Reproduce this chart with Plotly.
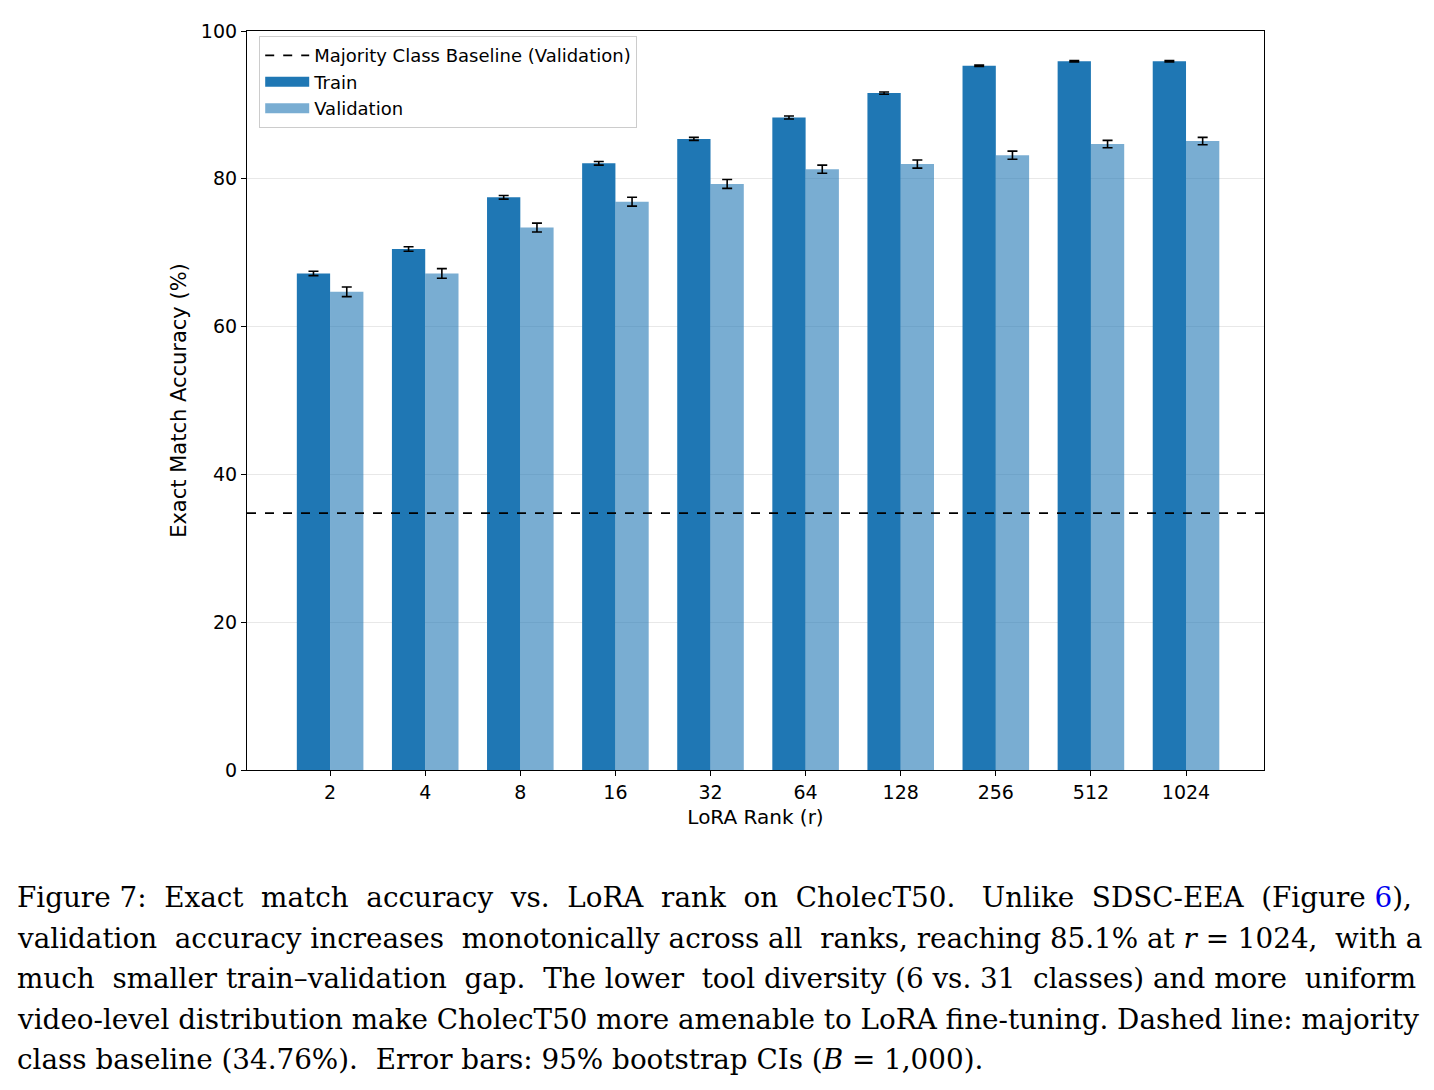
import plotly.graph_objects as go

ranks = ["2", "4", "8", "16", "32", "64", "128", "256", "512", "1024"]
train_acc = [67.2, 70.5, 77.5, 82.1, 85.4, 88.3, 91.6, 95.3, 95.9, 95.9]
train_err = [0.3, 0.3, 0.25, 0.25, 0.2, 0.2, 0.15, 0.1, 0.1, 0.1]
val_acc = [64.7, 67.2, 73.4, 76.9, 79.3, 81.3, 82.0, 83.2, 84.7, 85.1]
val_err = [0.65, 0.65, 0.6, 0.6, 0.6, 0.55, 0.55, 0.55, 0.5, 0.5]
baseline = 34.76
yticks = [0, 20, 40, 60, 80, 100]

caption_lines = [
    "Figure 7:  Exact  match  accuracy  vs.  LoRA  rank  on  CholecT50.   Unlike  SDSC-EEA  (Figure <span style='color:#0000ee'>6</span>),",
    "validation  accuracy increases  monotonically across all  ranks, reaching 85.1% at <i>r</i> = 1024,  with a",
    "much  smaller train–validation  gap.  The lower  tool diversity (6 vs. 31  classes) and more  uniform",
    "video-level distribution make CholecT50 more amenable to LoRA fine-tuning. Dashed line: majority",
    "class baseline (34.76%).  Error bars: 95% bootstrap CIs (<i>B</i> = 1,000).",
]

W, H = 1434, 1090
L, R, T, B = 247, 1264, 31, 770
TRAIN_C = "#1f77b4"
VAL_C = "rgba(31,119,180,0.6)"

xs = list(range(len(ranks)))
xr = [-0.874, 9.82]

fig = go.Figure()
fig.add_trace(go.Bar(
    x=[x - 0.175 for x in xs], y=train_acc, width=0.35, name="Train", showlegend=False,
    marker=dict(color=TRAIN_C, line=dict(width=0)),
    error_y=dict(type="data", array=train_err, color="black", thickness=1.6, width=5),
))
fig.add_trace(go.Bar(
    x=[x + 0.175 for x in xs], y=val_acc, width=0.35, name="Validation", showlegend=False,
    marker=dict(color=VAL_C, line=dict(width=0)),
    error_y=dict(type="data", array=val_err, color="black", thickness=1.6, width=5),
))
fig.add_trace(go.Scatter(
    x=xr, y=[baseline, baseline], mode="lines",
    line=dict(color="black", dash="dash", width=1.6),
    name="Majority Class Baseline (Validation)",
))
# legend swatches for the bars (wide rectangles)
fig.add_trace(go.Scatter(x=[None], y=[None], mode="lines", name="Train",
                         line=dict(color=TRAIN_C, width=12)))
fig.add_trace(go.Scatter(x=[None], y=[None], mode="lines", name="Validation",
                         line=dict(color=VAL_C, width=12)))

fig.update_layout(
    width=W, height=H,
    margin=dict(l=L, r=W - R, t=T, b=H - B, pad=0),
    paper_bgcolor="white", plot_bgcolor="white",
    barmode="overlay",
    font=dict(family="DejaVu Sans", size=19, color="black"),
    showlegend=True,
    legend=dict(
        x=0.012, y=0.993, xanchor="left", yanchor="top",
        bgcolor="rgba(255,255,255,0.8)", bordercolor="#cccccc", borderwidth=1,
        font=dict(size=18), itemwidth=44, traceorder="normal",
    ),
)
fig.update_xaxes(
    range=xr, tickmode="array", tickvals=xs, ticktext=ranks,
    showline=True, linecolor="black", linewidth=1.2, mirror=True,
    ticks="outside", ticklen=5, tickcolor="black", showgrid=False, zeroline=False,
    title=dict(text="LoRA Rank (r)", font=dict(size=20), standoff=8),
    tickfont=dict(size=19),
)
fig.update_yaxes(
    range=[0, 100], tickmode="array", tickvals=yticks,
    showline=True, linecolor="black", linewidth=1.2, mirror=True,
    ticks="outside", ticklen=5, tickcolor="black",
    showgrid=True, gridcolor="rgba(0,0,0,0.09)", gridwidth=1, zeroline=False,
    title=dict(text="Exact Match Accuracy (%)", font=dict(size=21), standoff=8),
    tickfont=dict(size=19),
)

centers_px = [895, 936, 976, 1017, 1057]
for line, py in zip(caption_lines, centers_px):
    fig.add_annotation(
        x=(15 - L) / (R - L), y=(B - py) / (B - T), xref="paper", yref="paper",
        xanchor="left", yanchor="middle", showarrow=False, align="left",
        text=line, font=dict(family="DejaVu Serif", size=27.8, color="black"),
        yshift=-2,
    )

fig.write_html("out.html")
